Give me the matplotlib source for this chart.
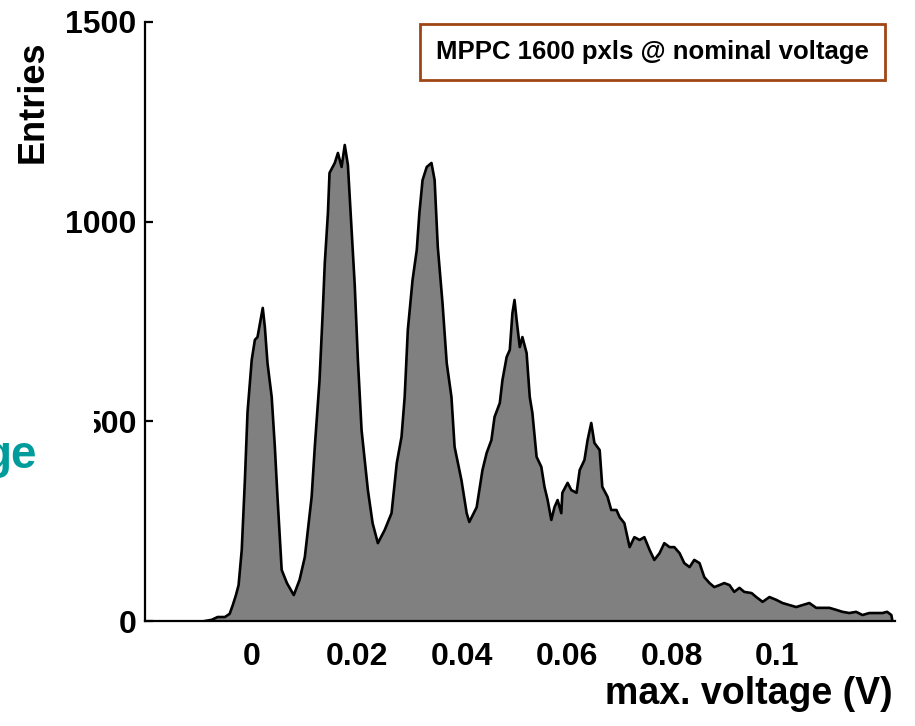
"""
MPPC 1600 pxls pulse-height spectrum (max. voltage histogram)
"""
import matplotlib

matplotlib.use("Agg")
import matplotlib.pyplot as plt
from matplotlib.patches import Rectangle

plt.rcParams["font.family"] = ["Liberation Sans", "DejaVu Sans"]
plt.rcParams["font.weight"] = "bold"

volts = [
    -0.0089, -0.0076, -0.0065, -0.0051, -0.0042, -0.0036, -0.0030, -0.0025,
    -0.0019, -0.0013, -0.0008, 0.0000, 0.0006, 0.0011, 0.0017, 0.0021,
    0.0025, 0.0030, 0.0038, 0.0044, 0.0049, 0.0057, 0.0067, 0.0080,
    0.0091, 0.0101, 0.0114, 0.0120, 0.0129, 0.0135, 0.0139, 0.0145,
    0.0148, 0.0158, 0.0164, 0.0171, 0.0177, 0.0183, 0.0190, 0.0196,
    0.0202, 0.0209, 0.0221, 0.0230, 0.0240, 0.0253, 0.0266, 0.0276,
    0.0285, 0.0291, 0.0297, 0.0306, 0.0314, 0.0319, 0.0325, 0.0333,
    0.0342, 0.0348, 0.0354, 0.0363, 0.0371, 0.0380, 0.0386, 0.0399,
    0.0409, 0.0414, 0.0428, 0.0439, 0.0447, 0.0456, 0.0462, 0.0472,
    0.0477, 0.0485, 0.0491, 0.0496, 0.0500, 0.0504, 0.0510, 0.0515,
    0.0523, 0.0529, 0.0534, 0.0542, 0.0551, 0.0557, 0.0563, 0.0570,
    0.0576, 0.0582, 0.0589, 0.0591, 0.0601, 0.0608, 0.0618, 0.0624,
    0.0633, 0.0639, 0.0646, 0.0652, 0.0662, 0.0667, 0.0677, 0.0684,
    0.0694, 0.0700, 0.0709, 0.0719, 0.0728, 0.0738, 0.0747, 0.0757,
    0.0766, 0.0776, 0.0785, 0.0795, 0.0804, 0.0814, 0.0823, 0.0833,
    0.0842, 0.0852, 0.0861, 0.0871, 0.0880, 0.0890, 0.0899, 0.0909,
    0.0918, 0.0928, 0.0937, 0.0951, 0.0960, 0.0972, 0.0985, 0.0998,
    0.1010, 0.1023, 0.1036, 0.1048, 0.1061, 0.1074, 0.1086, 0.1099,
    0.1112, 0.1124, 0.1137, 0.1150, 0.1162, 0.1175, 0.1188, 0.1200,
    0.1209, 0.1217, 0.1219,
]
entries = [
    0, 3, 10, 10, 18, 40, 65, 90,
    178, 353, 523, 654, 704, 711, 754, 784,
    736, 646, 561, 436, 311, 128, 95, 65,
    103, 160, 311, 436, 603, 771, 896, 1022,
    1122, 1147, 1172, 1137, 1192, 1142, 979, 841,
    654, 478, 328, 245, 195, 228, 270, 396,
    461, 561, 729, 854, 929, 1022, 1104, 1137,
    1147, 1104, 937, 796, 646, 561, 436, 353,
    270, 248, 285, 378, 421, 453, 511, 546,
    603, 661, 679, 771, 804, 754, 686, 711,
    671, 561, 521, 411, 386, 336, 303, 253,
    285, 303, 270, 321, 346, 328, 321, 378,
    403, 453, 496, 446, 428, 336, 311, 278,
    278, 260, 245, 185, 210, 203, 210, 178,
    153, 170, 195, 185, 185, 170, 145, 135,
    153, 145, 110, 95, 85, 90, 95, 90,
    73, 83, 73, 70, 60, 48, 60, 53,
    45, 40, 35, 40, 45, 33, 33, 33,
    28, 23, 20, 23, 15, 20, 20, 20,
    23, 15, 0,
]

x_ticks = [0, 0.02, 0.04, 0.06, 0.08, 0.1]
x_ticklabels = ["0", "0.02", "0.04", "0.06", "0.08", "0.1"]
y_ticks = [0, 500, 1000, 1500]
legend_text = "MPPC 1600 pxls @ nominal voltage"

fig = plt.figure(figsize=(9.15, 7.26), dpi=100)
ax = fig.add_axes([0.1585, 0.1446, 0.8197, 0.8251])

ax.fill_between(volts, entries, 0, color="#808080", lw=0)
ax.plot(volts, entries, color="black", lw=1.9)

ax.set_xlim(-0.0203, 0.1224)
ax.set_ylim(0, 1500)

for side in ["top", "right"]:
    ax.spines[side].set_visible(False)
for side in ["left", "bottom"]:
    ax.spines[side].set_linewidth(1.6)

ax.set_xticks(x_ticks)
ax.set_xticklabels(x_ticklabels)
ax.set_yticks(y_ticks)
ax.tick_params(axis="x", length=0, pad=15, labelsize=23)
ax.tick_params(axis="y", direction="in", length=6, width=1.6, pad=6, labelsize=23)

# axis titles placed as on the slide
fig.text(33 / 915, 1 - 102 / 726, "Entries", rotation=90, ha="center", va="center",
         fontsize=26, fontweight="bold")
fig.text(893 / 915, 1 - 694 / 726, "max. voltage (V)", ha="right", va="center",
         fontsize=27, fontweight="bold")

# legend box, top right
ax.text(0.388, 0.950, legend_text, transform=ax.transAxes, ha="left", va="center",
        fontsize=18.5, fontweight="bold", clip_on=False,
        bbox=dict(boxstyle="square,pad=0.62", fc="white", ec="#A04515", lw=2))

# leftover slide text and the white box that covers part of the "500" label
fig.patches.append(Rectangle((0, 1 - 440 / 726), 94 / 915, 40 / 726, transform=fig.transFigure,
                             fc="white", ec="none", zorder=5))
fig.text(37 / 915, 1 - 456 / 726, "ge", ha="right", va="center", color="#009C9C",
         fontsize=33, fontweight="bold", zorder=6)

fig.savefig("out.png", dpi=100)
